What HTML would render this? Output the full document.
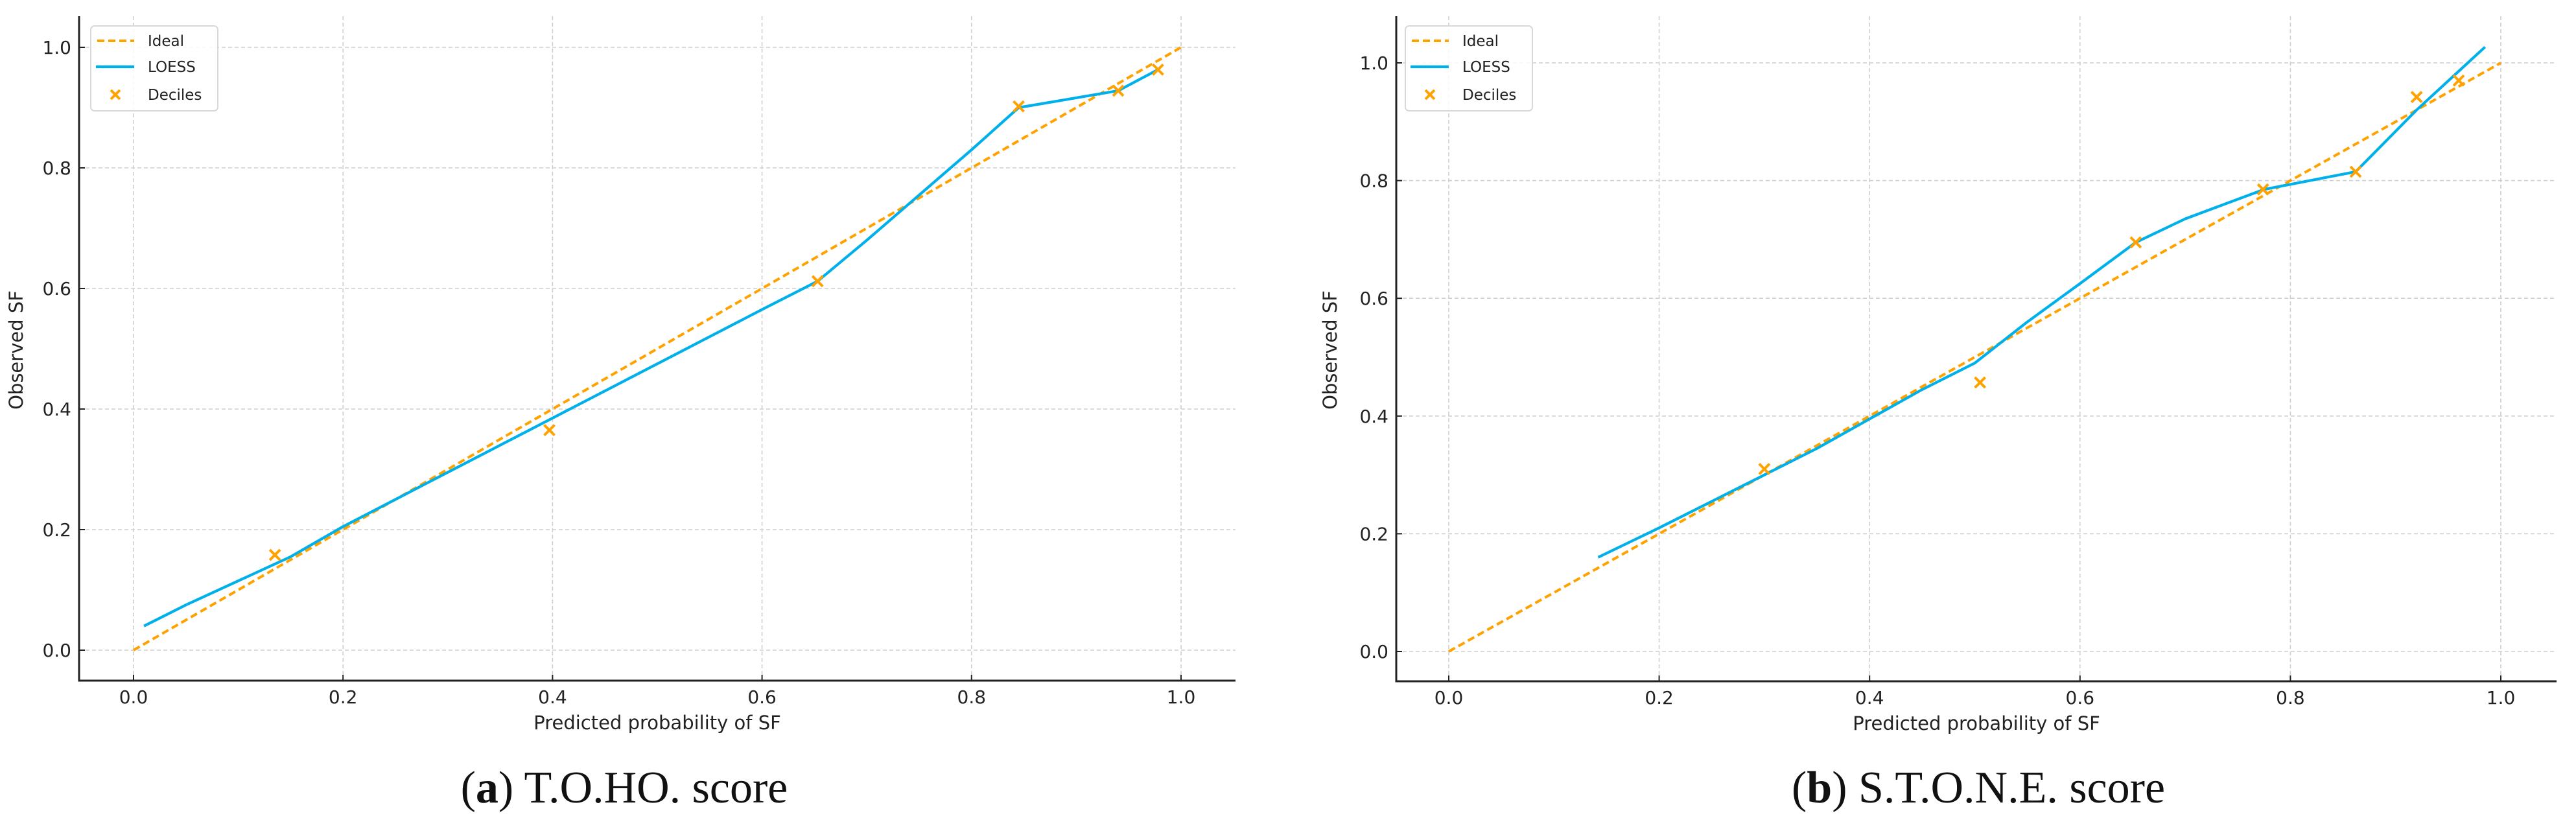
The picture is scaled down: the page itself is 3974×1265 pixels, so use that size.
<!DOCTYPE html>
<html><head><meta charset="utf-8">
<style>
html,body{margin:0;padding:0;background:#fff;}
svg{display:block;}
text{font-family:"DejaVu Sans","Liberation Sans",sans-serif;fill:#222;}
.cap{font-family:"Liberation Serif","DejaVu Serif",serif;fill:#111;}
</style></head>
<body>
<svg id="fig" width="3974" height="1265" viewBox="0 0 3974 1265" xmlns="http://www.w3.org/2000/svg"></svg>
<script>
// Panel A data (T.O.HO.)
const loessAx = [0.01,0.05,0.1,0.15,0.2,0.25,0.3,0.35,0.4,0.45,0.5,0.55,0.6,0.653,0.7,0.75,0.8,0.845,0.94,0.978];
const loessAy = [0.04,0.075,0.115,0.155,0.205,0.25,0.295,0.34,0.385,0.43,0.475,0.52,0.565,0.612,0.68,0.755,0.83,0.90,0.928,0.963];
const decAx = [0.135,0.397,0.653,0.845,0.94,0.978];
const decAy = [0.158,0.365,0.612,0.902,0.928,0.963];
// Panel B data (S.T.O.N.E.)
const loessBx = [0.142,0.2,0.25,0.3,0.35,0.4,0.45,0.5,0.55,0.6,0.653,0.7,0.775,0.862,0.92,0.985];
const loessBy = [0.16,0.21,0.255,0.30,0.345,0.395,0.445,0.49,0.56,0.625,0.695,0.735,0.785,0.815,0.92,1.027];
const decBx = [0.30,0.505,0.653,0.774,0.862,0.92,0.96];
const decBy = [0.31,0.457,0.695,0.785,0.815,0.942,0.97];
const ticks = [0,0.2,0.4,0.6,0.8,1.0];
const tickLabels = ["0.0","0.2","0.4","0.6","0.8","1.0"];
const idealX = [0,1];
const idealY = [0,1];

const NS="http://www.w3.org/2000/svg";
const svg=document.getElementById('fig');
const ORANGE="#FFA200", BLUE="#00B0EA";
function mk(tag,attrs,parent){const e=document.createElementNS(NS,tag);for(const k in attrs)e.setAttribute(k,attrs[k]);(parent||svg).appendChild(e);return e;}

function panel(p){
  const g=mk('g',{});
  
  
  const sx=v=>p.x0+(p.x1-p.x0)*v, sy=v=>p.y0+(p.y1-p.y0)*v;
  ticks.forEach((t,i)=>{
    const gx=mk('line',{x1:sx(t),x2:sx(t),y1:p.top,y2:p.bottom,stroke:'#cfcfcf','stroke-width':1.6,'stroke-dasharray':'6,4'},g);
    
    
    const gy=mk('line',{x1:p.left,x2:p.right,y1:sy(t),y2:sy(t),stroke:'#cfcfcf','stroke-width':1.6,'stroke-dasharray':'6,4'},g);
    
    
    mk('line',{x1:sx(t),x2:sx(t),y1:p.bottom,y2:p.bottom-9,stroke:'#222','stroke-width':2},g);
    mk('line',{x1:p.left,x2:p.left+9,y1:sy(t),y2:sy(t),stroke:'#222','stroke-width':2},g);
    const xt=mk('text',{x:sx(t),y:p.bottom+35,'font-size':28,'text-anchor':'middle'},g);
    xt.textContent=tickLabels[i];
    
    
    const yt=mk('text',{x:p.left-12,y:sy(t)+10,'font-size':28,'text-anchor':'end'},g);
    yt.textContent=tickLabels[i];
    
    
  });
  const sp1=mk('line',{x1:p.left,x2:p.left,y1:p.top,y2:p.bottom+1.5,stroke:'#222','stroke-width':3},g);
  
  
  const sp2=mk('line',{x1:p.left,x2:p.right,y1:p.bottom,y2:p.bottom,stroke:'#222','stroke-width':3},g);
  
  
  const ideal=mk('polyline',{points:idealX.map((v,i)=>sx(v)+','+sy(idealY[i])).join(' '),fill:'none',stroke:ORANGE,'stroke-width':4,'stroke-dasharray':'11,6'},g);
  
  
  const lo=mk('polyline',{points:p.lx.map((v,i)=>sx(v)+','+sy(p.ly[i])).join(' '),fill:'none',stroke:BLUE,'stroke-width':4.2,'stroke-linejoin':'round'},g);
  
  
  p.dx.forEach((v,i)=>{
    const cx=sx(v), cy=sy(p.dy[i]), s=8;
    const m=mk('path',{d:`M${cx-s},${cy-s}L${cx+s},${cy+s}M${cx-s},${cy+s}L${cx+s},${cy-s}`,stroke:ORANGE,'stroke-width':4,fill:'none'},g);
    
    
  });
  const xl=mk('text',{x:(p.left+p.right)/2,y:p.bottom+75,'font-size':29,'text-anchor':'middle'},g);
  xl.textContent='Predicted probability of SF';
  
  
  const yl=mk('text',{x:p.ylx,y:540,'font-size':29,'text-anchor':'middle',transform:`rotate(-90 ${p.ylx} 540)`},g);
  yl.textContent='Observed SF';
  
  
  const lg=mk('g',{},g);
  
  
  const L=p.lgx;
  mk('rect',{x:L,y:40,width:196,height:131,rx:6,fill:'#fff','fill-opacity':0.85,stroke:'#d8d8d8','stroke-width':2},lg);
  mk('line',{x1:L+10,x2:L+67,y1:63,y2:63,stroke:ORANGE,'stroke-width':4,'stroke-dasharray':'11,6'},lg);
  mk('line',{x1:L+8,x2:L+67,y1:103,y2:103,stroke:BLUE,'stroke-width':4.2},lg);
  const mx=L+38,my=146;
  mk('path',{d:`M${mx-7},${my-7}L${mx+7},${my+7}M${mx-7},${my+7}L${mx+7},${my-7}`,stroke:ORANGE,'stroke-width':4},lg);
  [['Ideal',71],['LOESS',111],['Deciles',154]].forEach(([t,y])=>{
    const tx=mk('text',{x:L+88,y:y,'font-size':23},lg);
    tx.textContent=t;
    
    
  });
  const cap=mk('text',{x:p.capx,y:1238,'font-size':70,'text-anchor':'middle',class:'cap'},g);
  cap.innerHTML='(<tspan font-weight="bold">'+p.capL+'</tspan>) '+p.capT;
  
  
}
panel({name:'panel-a-toho',x0:206,x1:1822,y0:1003,y1:73,left:122,right:1906,top:25,bottom:1050,lx:loessAx,ly:loessAy,dx:decAx,dy:decAy,ylx:35,lgx:140,capx:963,capL:'a',capT:'T.O.HO. score'});
panel({name:'panel-b-stone',x0:2235,x1:3858,y0:1005,y1:97,left:2154,right:3944,top:25,bottom:1051,lx:loessBx,ly:loessBy,dx:decBx,dy:decBy,ylx:2062,lgx:2168,capx:3052,capL:'b',capT:'S.T.O.N.E. score'});
</script>
</body></html>
